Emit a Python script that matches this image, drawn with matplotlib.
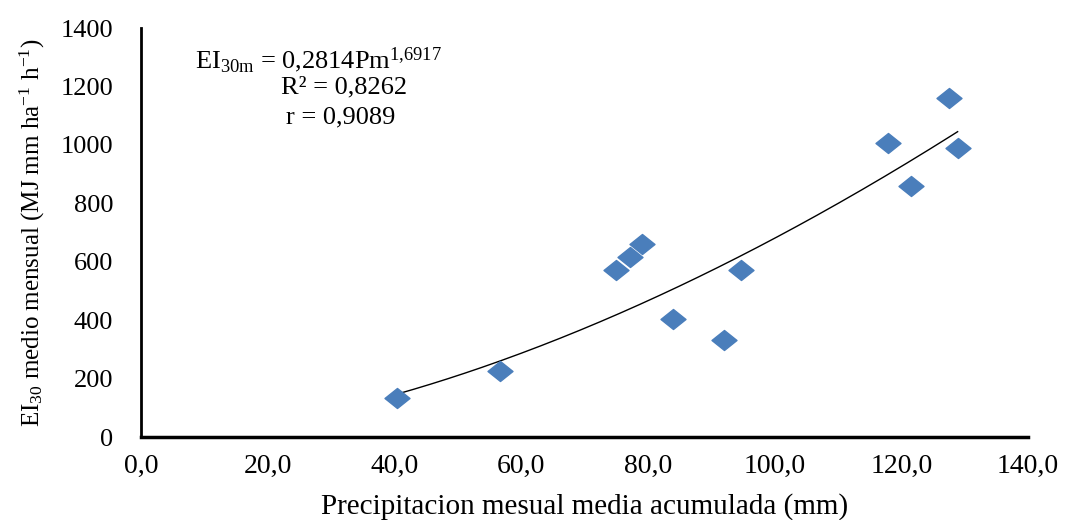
import numpy as np
import matplotlib
matplotlib.use('Agg')
import matplotlib.pyplot as plt
from matplotlib.path import Path

plt.rcParams['font.family'] = ['Liberation Serif', 'DejaVu Serif']
plt.rcParams['mathtext.fontset'] = 'custom'
plt.rcParams['mathtext.rm'] = 'Liberation Serif'
plt.rcParams['mathtext.it'] = 'Liberation Serif:italic'
plt.rcParams['mathtext.bf'] = 'Liberation Serif:bold'

# data
precip = [40.4, 56.7, 75.0, 77.2, 79.1, 84.0, 92.0, 94.7, 117.9, 121.5, 127.5, 128.9]
ei30 = [135, 226, 572, 616, 661, 404, 332, 572, 1007, 860, 1161, 990]
coef_a = 0.2814
coef_b = 1.6917
xticks = [0, 20, 40, 60, 80, 100, 120, 140]
yticks = [0, 200, 400, 600, 800, 1000, 1200, 1400]

fig = plt.figure(figsize=(10.66, 5.2), dpi=100)
ax = fig.add_axes([0.1323, 0.1596, 0.832, 0.7864])

# trendline (power fit)
xs = np.linspace(min(precip), max(precip), 200)
ax.plot(xs, coef_a * xs ** coef_b, color='black', lw=1.0, zorder=2)

# stretched diamond marker
diamond = Path([(-1.25, 0), (0, 1), (1.25, 0), (0, -1), (-1.25, 0)],
               [Path.MOVETO, Path.LINETO, Path.LINETO, Path.LINETO, Path.CLOSEPOLY])
ax.plot(precip, ei30, linestyle='none', marker=diamond, markersize=18,
        color='#4a7ebb', markeredgecolor='#4a7ebb', zorder=3)

ax.set_xlim(0, 140)
ax.set_ylim(0, 1400)
ax.set_xticks(xticks)
ax.set_yticks(yticks)
ax.set_xticklabels([f'{v:.1f}'.replace('.', ',') for v in xticks], fontsize=20)
ax.set_yticklabels([str(v) for v in yticks], fontsize=19)
ax.tick_params(axis='both', length=0)
ax.tick_params(axis='y', pad=20)
ax.tick_params(axis='x', pad=12)

for s in ['top', 'right']:
    ax.spines[s].set_visible(False)
ax.spines['left'].set_linewidth(2)
ax.spines['bottom'].set_linewidth(2.5)

ax.set_xlabel('Precipitacion mesual media acumulada (mm)', fontsize=21, labelpad=10)
ax.set_ylabel(r'EI$_{30}$ medio mensual (MJ mm ha$^{-1}$ h$^{-1}$)', fontsize=18, labelpad=10)

fig.text(0.183, 0.885, r'EI$_{\mathrm{30m}}$ = 0,2814Pm$^{1{,}6917}$', fontsize=19,
         ha='left', va='center')
fig.text(0.323, 0.831, 'R² = 0,8262', fontsize=19, ha='center', va='center')
fig.text(0.320, 0.775, 'r = 0,9089', fontsize=19, ha='center', va='center')

fig.savefig('out.png', dpi=100)
